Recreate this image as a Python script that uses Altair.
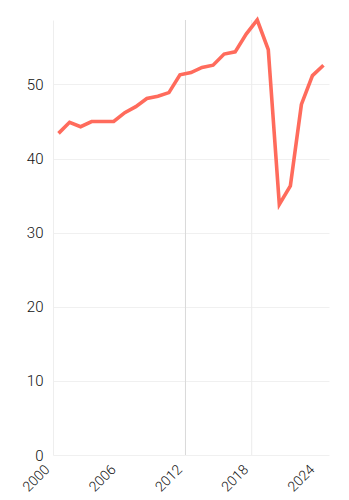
import altair as alt
import pandas as pd

years = list(range(2000, 2025))
values = [43.4, 44.9, 44.3, 45.0, 45.0, 45.0, 46.2, 47.0, 48.1, 48.4, 48.9,
          51.3, 51.6, 52.3, 52.6, 54.1, 54.4, 56.8, 58.7, 54.7, 33.8, 36.3,
          47.3, 51.2, 52.6]
x_ticks = [2000, 2006, 2012, 2018, 2024]
y_ticks = [0, 10, 20, 30, 40, 50]
marker_years = [2012, 2018]
marker_colors = ["#d9d9d9", "#ebebeb"]

df = pd.DataFrame({"year": [y + 0.5 for y in years], "value": values})
rules_df = pd.DataFrame({"year": marker_years, "c": marker_colors})

x_scale = alt.Scale(domain=[2000, 2025], nice=False, zero=False)
y_scale = alt.Scale(domain=[0, max(values)], nice=False)

rules = alt.Chart(rules_df).mark_rule(strokeWidth=1).encode(
    x=alt.X("year:Q", scale=x_scale),
    color=alt.Color("c:N", scale=None),
)

line = alt.Chart(df).mark_line(color="#ff6b5c", strokeWidth=3.6, strokeJoin="miter").encode(
    x=alt.X("year:Q", scale=x_scale, title=None,
            axis=alt.Axis(values=x_ticks, format="d", labelAngle=-45, grid=False,
                          domain=False, ticks=False, labelFontSize=14,
                          labelAlign="right", labelBaseline="alphabetic",
                          labelColor="#111111", labelPadding=15, labelOffset=-3,
                          labelFont="Roboto", labelFontWeight=300)),
    y=alt.Y("value:Q", scale=y_scale, title=None,
            axis=alt.Axis(values=y_ticks, grid=True, gridColor="#f0f0f0",
                          domain=True, domainColor="#eeeeee", ticks=False,
                          labelFontSize=15, labelColor="#111111", labelPadding=10,
                          labelFont="Roboto", labelFontWeight=300)),
)

chart = alt.layer(rules, line).properties(
    width=276, height=435,
    autosize=alt.AutoSizeParams(type="none"),
    padding={"left": 53, "top": 20, "right": 20, "bottom": 45},
).configure(background="white").configure_view(stroke=None)

chart.save("out.html", embed_options={"renderer": "svg", "actions": False})
